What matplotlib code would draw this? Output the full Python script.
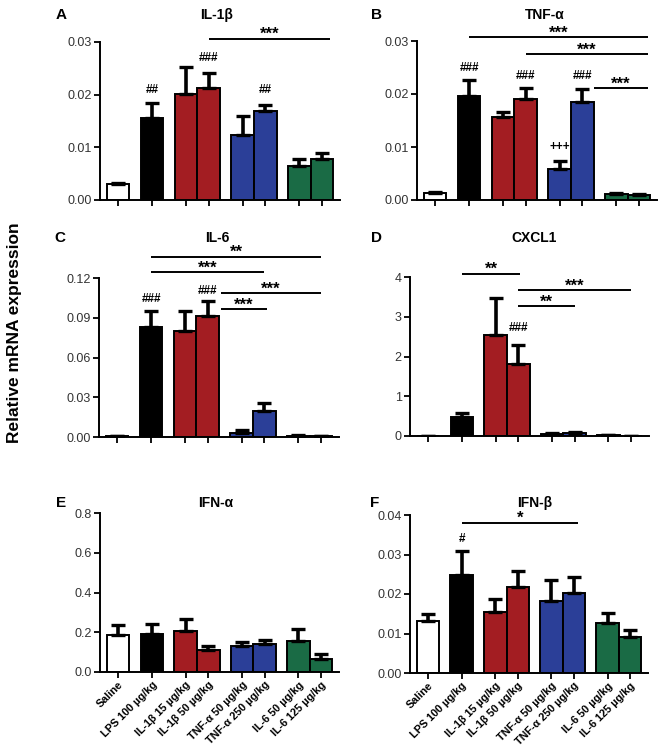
import matplotlib
matplotlib.use('Agg')
import matplotlib.pyplot as plt
from matplotlib.ticker import FormatStrFormatter
import numpy as np

plt.rcParams['font.family'] = ['Liberation Sans', 'DejaVu Sans']

groups = ['Saline', 'LPS 100 µg/kg', 'IL-1β 15 µg/kg', 'IL-1β 50 µg/kg',
          'TNF-α 50 µg/kg', 'TNF-α 250 µg/kg', 'IL-6 50 µg/kg', 'IL-6 125 µg/kg']
bar_colors = ['white', 'black', '#A31D22', '#A31D22', '#2B3F98', '#2B3F98', '#1A6B45', '#1A6B45']
xpos = np.array([0, 1.5, 3, 4, 5.5, 6.5, 8, 9])

# mean and SEM per group
il1b_mean = [0.0030, 0.0155, 0.0202, 0.0212, 0.0123, 0.0169, 0.0065, 0.0077]
il1b_sem = [0.0002, 0.0030, 0.0050, 0.0030, 0.0037, 0.0011, 0.0013, 0.0012]
tnfa_mean = [0.0013, 0.0196, 0.0157, 0.0190, 0.0058, 0.0184, 0.0012, 0.0010]
tnfa_sem = [0.0002, 0.0030, 0.0009, 0.0021, 0.0015, 0.0026, 0.0002, 0.0002]
il6_mean = [0.0008, 0.083, 0.080, 0.091, 0.003, 0.020, 0.001, 0.0005]
il6_sem = [0.0002, 0.012, 0.015, 0.012, 0.002, 0.006, 0.0003, 0.0002]
cxcl1_mean = [0.005, 0.48, 2.55, 1.80, 0.06, 0.08, 0.02, 0.005]
cxcl1_sem = [0.003, 0.10, 0.93, 0.48, 0.02, 0.03, 0.01, 0.003]
ifna_mean = [0.185, 0.190, 0.205, 0.110, 0.130, 0.140, 0.155, 0.065]
ifna_sem = [0.050, 0.050, 0.060, 0.020, 0.020, 0.023, 0.063, 0.028]
ifnb_mean = [0.0132, 0.0248, 0.0154, 0.0218, 0.0182, 0.0202, 0.0126, 0.0090]
ifnb_sem = [0.0018, 0.0062, 0.0033, 0.0040, 0.0054, 0.0040, 0.0027, 0.0018]

W, H = 664, 748
fig = plt.figure(figsize=(W / 100, H / 100), dpi=100)


def px_axes(l, t, r, b):
    return fig.add_axes([l / W, 1 - b / H, (r - l) / W, (b - t) / H])


panels = [
    # letter, title, mean, sem, rect(px), ylim, yticks, fmt, marks, brackets, letter xy, title xy, xlabels
    ('A', 'IL-1β', il1b_mean, il1b_sem, (100, 42, 340, 200), 0.03, [0, 0.01, 0.02, 0.03], '%.2f',
     [(1, '##', 0.0209), (3, '###', 0.0270), (5, '##', 0.0209)],
     [(4, 9.36, 0.0306, '***')], (61, 15), (217, 15), False),
    ('B', 'TNF-α', tnfa_mean, tnfa_sem, (417, 41, 657, 200), 0.03, [0, 0.01, 0.02, 0.03], '%.2f',
     [(1, '###', 0.0249), (3, '###', 0.0234), (5, '###', 0.0234), (4, '+++', 0.0100)],
     [(1.5, 9.4, 0.0307, '***'), (4, 9.4, 0.0275, '***'), (7.0, 9.4, 0.0211, '***')],
     (376, 15), (545, 15), False),
    ('C', 'IL-6', il6_mean, il6_sem, (99, 278, 339, 437), 0.12, [0, 0.03, 0.06, 0.09, 0.12], '%.2f',
     [(1, '###', 0.104), (3, '###', 0.110)],
     [(1.5, 9.0, 0.136, '**'), (1.5, 6.5, 0.1245, '***'), (4.6, 9.0, 0.1087, '***'),
      (4.6, 6.6, 0.0966, '***')],
     (60, 238), (217, 238), False),
    ('D', 'CXCL1', cxcl1_mean, cxcl1_sem, (410, 277, 649, 436), 4, [0, 1, 2, 3, 4], '%d',
     [(3, '###', 2.72)],
     [(1.5, 4.1, 4.08, '**'), (4, 9, 3.67, '***'), (4, 6.5, 3.27, '**')],
     (376, 238), (534, 238), False),
    ('E', 'IFN-α', ifna_mean, ifna_sem, (100, 513, 339, 672), 0.8, [0, 0.2, 0.4, 0.6, 0.8], '%.1f',
     [], [], (61, 503), (216, 503), True),
    ('F', 'IFN-β', ifnb_mean, ifnb_sem, (410, 515, 648, 673), 0.04, [0, 0.01, 0.02, 0.03, 0.04], '%.2f',
     [(1, '#', 0.0339)],
     [(1.5, 6.7, 0.038, '*')],
     (375, 503), (535, 503), True),
]

for (letter, title, mean, sem, rect, ytop, yticks, fmt, marks, brackets,
     lxy, txy, show_x) in panels:
    ax = px_axes(*rect)
    ax.bar(xpos, mean, width=1.0, color=bar_colors, edgecolor='black',
           linewidth=1.4, zorder=2)
    ax.errorbar(xpos, mean, yerr=[np.zeros(len(mean)), sem], fmt='none',
                ecolor='black', elinewidth=2.6, capsize=4.8, capthick=2.4, zorder=3)
    ax.set_xlim(-0.8, 9.8)
    ax.set_ylim(0, ytop)
    ax.set_yticks(yticks)
    ax.yaxis.set_major_formatter(FormatStrFormatter(fmt))
    for s in ['top', 'right']:
        ax.spines[s].set_visible(False)
    for s in ['left', 'bottom']:
        ax.spines[s].set_linewidth(1.4)
    ax.tick_params(axis='both', direction='out', length=4, width=1.3, pad=2)
    ax.tick_params(axis='y', labelsize=9, labelcolor='#333333')
    ax.tick_params(axis='x', pad=1.5)
    ax.set_xticks(xpos)
    if show_x:
        ax.set_xticklabels(groups, rotation=45, ha='right', rotation_mode='anchor',
                           fontsize=7.8, fontweight='bold')
    else:
        ax.set_xticklabels([])

    for idx, txt, y in marks:
        ax.text(xpos[idx], y, txt, ha='center', va='center', fontsize=8.5,
                fontweight='bold', zorder=4)
    for x0, x1, y, txt in brackets:
        ax.plot([x0, x1], [y, y], color='black', linewidth=1.4, clip_on=False,
                solid_capstyle='butt')
        ax.annotate(txt, xy=((x0 + x1) / 2, y), xytext=(0, 3), textcoords='offset points',
                    ha='center', va='center', fontsize=12, fontweight='bold',
                    annotation_clip=False)

    fig.text(lxy[0] / W, 1 - lxy[1] / H, letter, ha='center', va='center',
             fontsize=11, fontweight='bold')
    fig.text(txy[0] / W, 1 - txy[1] / H, title, ha='center', va='center',
             fontsize=10, fontweight='bold')

fig.text(15 / W, 1 - 333 / H, 'Relative mRNA expression', rotation=90,
         ha='center', va='center', fontsize=12.5, fontweight='bold')

fig.savefig('out.png', dpi=100)
